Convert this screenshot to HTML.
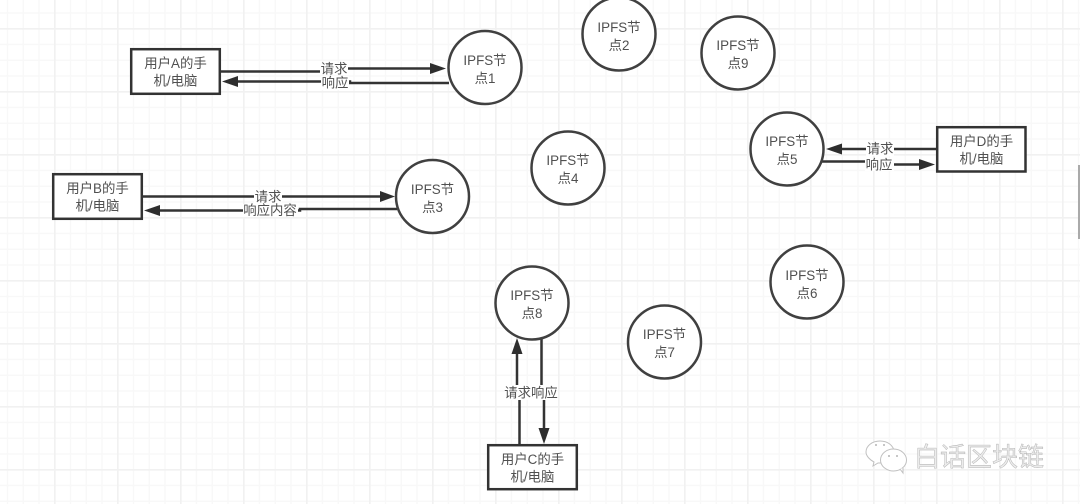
<!DOCTYPE html>
<html><head><meta charset="utf-8"><style>
html,body{margin:0;padding:0;background:#fff;width:1080px;height:504px;overflow:hidden}
svg{display:block}
text{font-family:"Liberation Sans","Noto Sans CJK SC",sans-serif;font-size:13.4px;fill:#505050;text-anchor:middle}
.c{fill:#fff;stroke:#404040;stroke-width:2.5}
.r{fill:#fff;stroke:#333;stroke-width:2.5}
.l{fill:none;stroke:#333;stroke-width:2.5}
.a{fill:#2e2e2e}
.b{fill:#fff}
</style></head><body>
<svg width="1080" height="504" viewBox="0 0 1080 504" xmlns="http://www.w3.org/2000/svg">
<defs>
<pattern id="gv" x="6.75" y="0" width="15.75" height="504" patternUnits="userSpaceOnUse"><rect x="0" width="1.4" height="504" fill="#f8f8f8"/></pattern>
<pattern id="gh" x="0" y="-3.5" width="1080" height="15.75" patternUnits="userSpaceOnUse"><rect y="0" width="1080" height="1.4" fill="#f8f8f8"/></pattern>
<pattern id="Gv" x="54" y="0" width="63" height="504" patternUnits="userSpaceOnUse"><rect x="-0.3" width="2" height="504" fill="#f1f1f1"/></pattern>
<pattern id="Gh" x="0" y="28" width="1080" height="63" patternUnits="userSpaceOnUse"><rect y="-0.3" width="1080" height="2" fill="#f1f1f1"/></pattern>
</defs>
<rect width="1080" height="504" fill="#fff"/>
<rect width="1080" height="504" fill="url(#gv)"/>
<rect width="1080" height="504" fill="url(#gh)"/>
<rect width="1080" height="504" fill="url(#Gv)"/>
<rect width="1080" height="504" fill="url(#Gh)"/>
<rect x="1078" y="165" width="2" height="74" fill="#aaa"/>

<!-- A connectors -->
<path class="l" d="M220 71.5H325V68.5H432"/><path class="a" d="M446 68.5L430 63V74Z"/>
<path class="l" d="M449 83H350V81.5H236"/><path class="a" d="M222 81.5L238 76V87Z"/>
<rect class="b" x="320" y="63" width="28" height="11"/><text x="334" y="73.5">请求</text>
<rect class="b" x="321" y="76" width="28" height="14"/><text x="335" y="87.5">响应</text>
<!-- B connectors -->
<path class="l" d="M142 196.5H382"/><path class="a" d="M395 196.5L380 191V202Z"/>
<path class="l" d="M397 209H300V210.5H158"/><path class="a" d="M144 210.5L160 205V216Z"/>
<rect class="b" x="254" y="190" width="28" height="13"/><text x="268" y="201.5">请求</text>
<rect class="b" x="243" y="204" width="55" height="13"/><text x="270" y="215">响应内容</text>
<!-- D connectors -->
<path class="l" d="M937 149H840"/><path class="a" d="M826 149L842 143.500V154.500Z"/>
<path class="l" d="M822 161.500H870V164.500H921"/><path class="a" d="M935 164.500L919 159V170Z"/>
<rect class="b" x="866" y="142" width="28" height="14"/><text x="880" y="153.500">请求</text>
<rect class="b" x="865" y="158" width="29" height="13"/><text x="879" y="169.500">响应</text>
<!-- C connectors -->
<path class="l" d="M519.500 445V395H517V351"/><path class="a" d="M517 338L511.500 354H522.500Z"/>
<path class="l" d="M541.500 339V395H544V431"/><path class="a" d="M544 444L538.500 428H549.500Z"/>
<rect class="b" x="505" y="385" width="52" height="15"/><text x="531" y="397.500">请求响应</text>

<!-- Rects -->
<rect class="r" x="131.200" y="49.200" width="88.600" height="44.600"/>
<text x="175.500" y="68">用户A的手</text><text x="175.500" y="85.500">机/电脑</text>
<rect class="r" x="53.200" y="174.200" width="88.600" height="44.600"/>
<text x="97.500" y="193">用户B的手</text><text x="97.500" y="210.500">机/电脑</text>
<rect class="r" x="937.200" y="127.200" width="88.300" height="44.300"/>
<text x="981.500" y="146">用户D的手</text><text x="981.500" y="163.500">机/电脑</text>
<rect class="r" x="488.200" y="445.200" width="88.600" height="44"/>
<text x="532.500" y="464">用户C的手</text><text x="532.500" y="481.500">机/电脑</text>

<!-- Circles -->
<circle class="c" cx="485" cy="67.500" r="36.500"/><text x="485" y="65">IPFS节</text><text x="485" y="83">点1</text>
<circle class="c" cx="619" cy="34" r="36.500"/><text x="619" y="32">IPFS节</text><text x="619" y="50">点2</text>
<circle class="c" cx="432.500" cy="196.500" r="36.500"/><text x="432.500" y="194">IPFS节</text><text x="432.500" y="212">点3</text>
<circle class="c" cx="568" cy="168" r="36.500"/><text x="568" y="165">IPFS节</text><text x="568" y="183">点4</text>
<circle class="c" cx="787" cy="149" r="36.500"/><text x="787" y="146">IPFS节</text><text x="787" y="164">点5</text>
<circle class="c" cx="807" cy="282" r="36.500"/><text x="807" y="280">IPFS节</text><text x="807" y="298">点6</text>
<circle class="c" cx="664.500" cy="342" r="36.500"/><text x="664.500" y="339">IPFS节</text><text x="664.500" y="357">点7</text>
<circle class="c" cx="532" cy="303" r="36.500"/><text x="532" y="300">IPFS节</text><text x="532" y="318">点8</text>
<circle class="c" cx="738" cy="53" r="36.500"/><text x="738" y="50">IPFS节</text><text x="738" y="68">点9</text>

<!-- Watermark -->
<g fill="#fff" stroke="#c0c0c0" stroke-width="1">
<path d="M880 441c8 0 14 5 14 11 0 6-6 11-14 11l-2 0-5 3 1-4c-4-2-8-6-8-10 0-6 6-11 14-11Z"/>
<ellipse cx="893.500" cy="460" rx="13" ry="11"/><path d="M900 469l3 4 0-5"/>
</g>
<g fill="#b5b5b5"><circle cx="876" cy="445" r="1"/><circle cx="884" cy="445" r="1"/><circle cx="889" cy="456" r="1"/><circle cx="897" cy="456" r="1"/></g>
<text x="979" y="466" style="font-size:26px;fill:#ececec;stroke:#aaa;stroke-width:.4">白话区块链</text>
</svg>
</body></html>
